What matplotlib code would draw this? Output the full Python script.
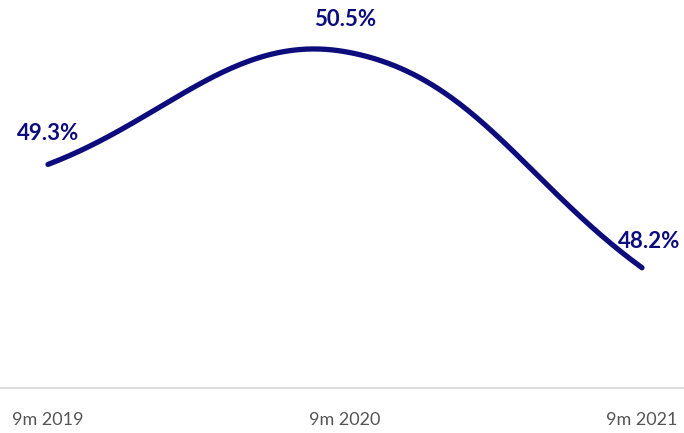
import numpy as np
import matplotlib
matplotlib.use("Agg")
import matplotlib.pyplot as plt

categories = ["9m 2019", "9m 2020", "9m 2021"]
values = [49.3, 50.5, 48.2]
labels = ["49.3%", "50.5%", "48.2%"]

LINE = "#0c0c7c"
TENSION = 0.4


def spline_display(P, tension=TENSION, n=100):
    """Chart.js-style spline control points computed in display space."""
    P = np.asarray(P, float)
    k = len(P)
    prevc = np.zeros_like(P)
    nextc = np.zeros_like(P)
    for i in range(k):
        p0 = P[i - 1] if i > 0 else P[i]
        p1 = P[i]
        p2 = P[i + 1] if i < k - 1 else P[i]
        d01 = np.hypot(*(p1 - p0))
        d12 = np.hypot(*(p2 - p1))
        tot = d01 + d12
        s01 = d01 / tot if tot else 0
        s12 = d12 / tot if tot else 0
        fa = tension * s01
        fb = tension * s12
        prevc[i] = p1 - fa * (p2 - p0)
        nextc[i] = p1 + fb * (p2 - p0)
    pts = []
    t = np.linspace(0, 1, n)[:, None]
    for i in range(k - 1):
        b0, b1, b2, b3 = P[i], nextc[i], prevc[i + 1], P[i + 1]
        seg = ((1 - t) ** 3) * b0 + 3 * t * (1 - t) ** 2 * b1 + 3 * t ** 2 * (1 - t) * b2 + t ** 3 * b3
        pts.append(seg)
    return np.vstack(pts)


fig = plt.figure(figsize=(6.84, 4.33), dpi=100)
ax = fig.add_axes([0, 45 / 433, 1, 388 / 433])
x = np.arange(len(categories))
ax.set_xlim(-48 / 297, 2 + 42 / 297)
ax.set_ylim(46.92, 51.05)

disp = ax.transData.transform(np.column_stack([x, values]))
curve_disp = spline_display(disp)
curve = ax.transData.inverted().transform(curve_disp)
ax.plot(curve[:, 0], curve[:, 1], color=LINE, lw=3.8,
        solid_capstyle="round", solid_joinstyle="round")

offsets = [(0, 22), (0, 23), (5.5, 19)]
for xi, v, lab, off in zip(x, values, labels, offsets):
    ax.annotate(lab, (xi, v), xytext=off, textcoords="offset points",
                ha="center", va="center", color=LINE, fontsize=16,
                fontweight="bold", family=["Lato", "DejaVu Sans"])

ax.set_yticks([])
ax.set_xticks(x)
ax.set_xticklabels(categories, family=["Lato", "DejaVu Sans"], fontsize=13, color="#555555")
ax.tick_params(axis="x", length=0, pad=17)
for s in ["top", "left", "right"]:
    ax.spines[s].set_visible(False)
ax.spines["bottom"].set_color("#dddddd")
ax.spines["bottom"].set_linewidth(1.5)
ax.patch.set_alpha(0)
fig.savefig("out.png", dpi=100)
